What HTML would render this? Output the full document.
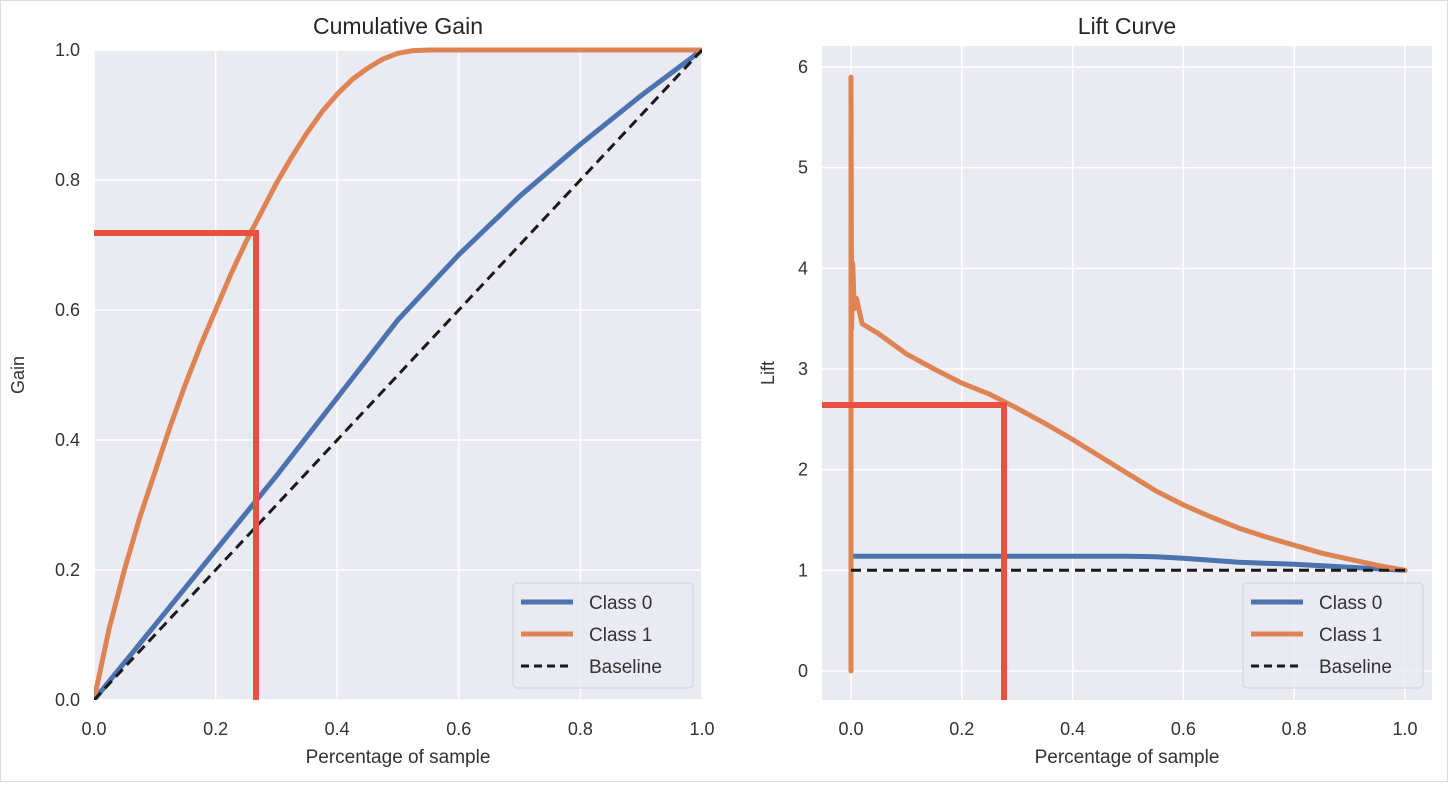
<!DOCTYPE html>
<html><head><meta charset="utf-8"><style>
html,body{margin:0;padding:0;background:#fff}
svg{display:block;font-family:"Liberation Sans",sans-serif}
</style></head><body>
<svg id="c" width="1448" height="786">
<rect x="0.5" y="0.5" width="1447" height="781" fill="#fff" stroke="#ddd"/>
</svg>
<script>
const gainX=[0,0.025,0.05,0.075,0.1,0.125,0.15,0.175,0.2,0.225,0.25,0.275,0.3,0.325,0.35,0.375,0.4,0.425,0.45,0.475,0.5,0.525,0.55,1];
const gainClass1=[0,0.11,0.2,0.28,0.35,0.42,0.485,0.545,0.6,0.655,0.705,0.75,0.795,0.835,0.872,0.905,0.932,0.955,0.972,0.986,0.995,0.999,1,1];
const gainX0=[0,0.1,0.2,0.3,0.4,0.5,0.6,0.7,0.8,0.9,1];
const gainClass0=[0,0.115,0.23,0.345,0.465,0.585,0.685,0.775,0.855,0.93,1];
const liftX1=[0,0,0.001,0.003,0.006,0.01,0.02,0.05,0.1,0.15,0.2,0.25,0.3,0.35,0.4,0.45,0.5,0.55,0.6,0.65,0.7,0.75,0.8,0.85,0.9,0.95,1];
const liftClass1=[0,5.9,3.4,4.05,3.6,3.7,3.45,3.35,3.15,3.0,2.86,2.75,2.61,2.46,2.3,2.13,1.96,1.79,1.65,1.53,1.42,1.33,1.25,1.17,1.11,1.05,1];
const liftX0=[0,0.45,0.5,0.55,0.6,0.65,0.7,0.8,0.9,1];
const liftClass0=[1.14,1.14,1.14,1.135,1.12,1.1,1.08,1.06,1.03,1];
const gainTicks=[0,0.2,0.4,0.6,0.8,1.0];
const liftYTicks=[0,1,2,3,4,5,6];
const xTicks=[0,0.2,0.4,0.6,0.8,1.0];

const svg=document.getElementById('c');
const NS='http://www.w3.org/2000/svg';
function el(t,a,p){const e=document.createElementNS(NS,t);for(const k in a)e.setAttribute(k,a[k]);(p||svg).appendChild(e);return e;}

function panel(cfg){
  const g=el('g',{});
  
  
  el('rect',{x:cfg.L,y:cfg.T,width:cfg.R-cfg.L,height:cfg.B-cfg.T,fill:'#eaeaf2'},g);
  const sx=v=>cfg.x0+(v-0)*(cfg.x1-cfg.x0);
  const sy=v=>cfg.y0+(v-cfg.ymin)/(cfg.ymax-cfg.ymin)*(cfg.y1-cfg.y0);
  xTicks.forEach(t=>{
    el('line',{x1:sx(t),x2:sx(t),y1:cfg.T,y2:cfg.B,stroke:'#fff','stroke-width':1.5},g);
    const tx=el('text',{x:sx(t),y:cfg.B+35,'text-anchor':'middle','font-size':18,fill:'#333'},g);
    tx.textContent=t.toFixed(1);
    
    
  });
  cfg.yt.forEach(t=>{
    el('line',{x1:cfg.L,x2:cfg.R,y1:sy(t),y2:sy(t),stroke:'#fff','stroke-width':1.5},g);
    const tx=el('text',{x:cfg.L-14,y:sy(t)+6,'text-anchor':'end','font-size':18,fill:'#333'},g);
    tx.textContent=cfg.fmt(t);
    
    
  });
  const ttl=el('text',{x:(cfg.L+cfg.R)/2,y:34,'text-anchor':'middle','font-size':23,fill:'#262626'},g);
  ttl.textContent=cfg.title;
  
  
  const xl=el('text',{x:(cfg.L+cfg.R)/2,y:763,'text-anchor':'middle','font-size':19,fill:'#333'},g);
  xl.textContent='Percentage of sample';
  
  
  const yx=cfg.L-cfg.ylabOff, yy=(cfg.T+cfg.B)/2;
  const yl=el('text',{x:yx,y:yy,'text-anchor':'middle','font-size':18,fill:'#333',transform:`rotate(-90 ${yx} ${yy})`},g);
  yl.textContent=cfg.ylab;
  
  
  const clip='clip'+cfg.name;
  const cp=el('clipPath',{id:clip},g);
  el('rect',{x:cfg.L,y:cfg.T-3,width:cfg.R-cfg.L,height:cfg.B-cfg.T+3},cp);
  function line(xs,ys,color,name,dash,w){
    const d=xs.map((x,i)=>(i?'L':'M')+sx(x).toFixed(1)+','+sy(ys[i]).toFixed(1)).join(' ');
    const p=el('path',{d:d,fill:'none',stroke:color,'stroke-width':w||5,'stroke-linejoin':'round','stroke-linecap':'round','clip-path':`url(#${clip})`},g);
    if(dash){p.setAttribute('stroke-dasharray',dash);p.setAttribute('stroke-linecap','butt');}
    
    
  }
  cfg.series.forEach(s=>line(s.x,s.y,s.c,s.n));
  line(cfg.base[0],cfg.base[1],'#1a1a1a','baseline-line','10,6',3);
  const lg=el('g',{},g);
  
  
  const lx=cfg.R-189, ly=583;
  el('rect',{x:lx,y:ly,width:180,height:105,rx:4,fill:'#eaeaf2',stroke:'#d0d0d8','fill-opacity':0.8},lg);
  [['Class 0','#4c72b0',null],['Class 1','#dd8452',null],['Baseline','#1a1a1a','8,5']].forEach((e,i)=>{
    const y=ly+19+i*32;
    const l=el('line',{x1:lx+8,x2:lx+60,y1:y,y2:y,stroke:e[1],'stroke-width':e[2]?3:5},lg);
    if(e[2])l.setAttribute('stroke-dasharray',e[2]);
    const t=el('text',{x:lx+76,y:y+7,'font-size':19,fill:'#333'},lg);
    t.textContent=e[0];
    
    
  });
  const r=cfg.red;
  const rp=el('path',{d:`M${cfg.L},${r.y} L${r.x},${r.y} L${r.x},${cfg.B}`,fill:'none',stroke:'#e8503f','stroke-width':6},g);
  
  
}

panel({name:'cumulative-gain-chart',title:'Cumulative Gain',ylab:'Gain',ylabOff:70,L:94,R:702,T:50,B:700,
  x0:94,x1:702,y0:700,y1:50,ymin:0,ymax:1,yt:gainTicks,fmt:t=>t.toFixed(1),
  series:[{x:gainX0,y:gainClass0,c:'#4c72b0',n:'gain-class0-line'},{x:gainX,y:gainClass1,c:'#dd8452',n:'gain-class1-line'}],
  base:[[0,1],[0,1]],red:{x:256,y:233}});
panel({name:'lift-curve-chart',title:'Lift Curve',ylab:'Lift',ylabOff:48,L:822,R:1432,T:46,B:700,
  x0:851,x1:1405,y0:671,y1:67,ymin:0,ymax:6,yt:liftYTicks,fmt:t=>String(t),
  series:[{x:liftX0,y:liftClass0,c:'#4c72b0',n:'lift-class0-line'},{x:liftX1,y:liftClass1,c:'#dd8452',n:'lift-class1-line'}],
  base:[[0,1],[1,1]],red:{x:1004,y:405}});
</script>
</body></html>
